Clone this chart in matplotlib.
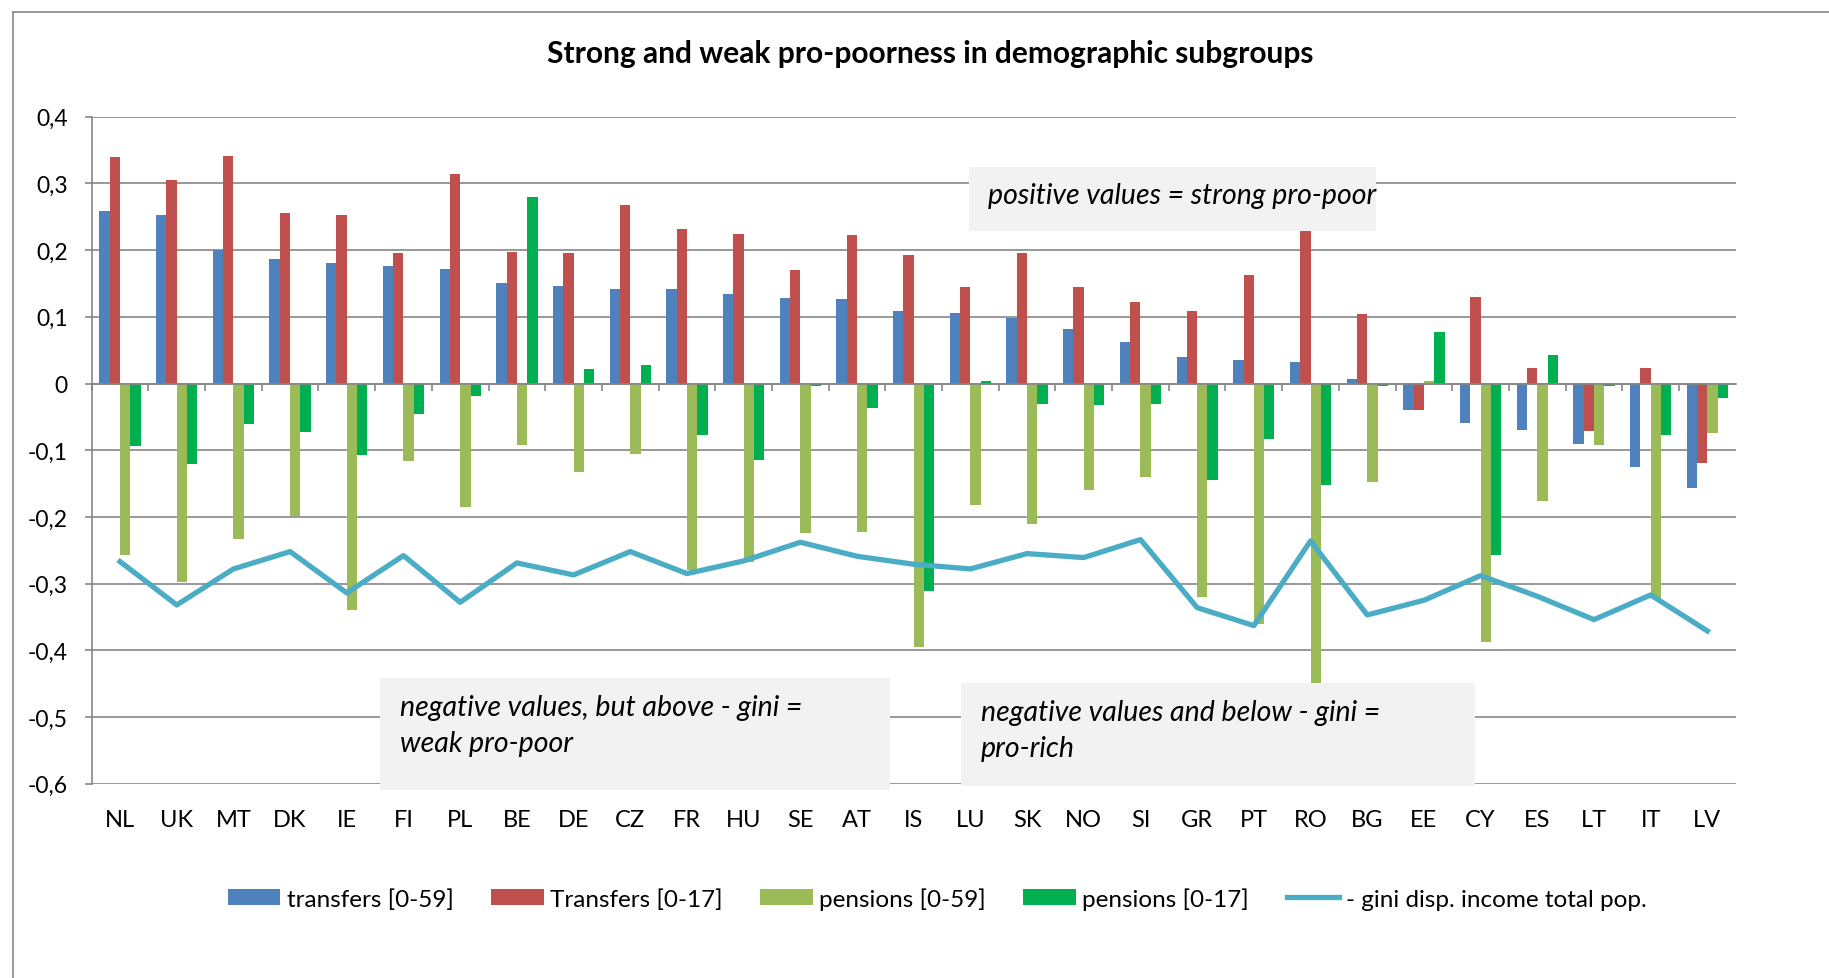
import matplotlib
matplotlib.use("Agg")
import matplotlib.pyplot as plt
import numpy as np
from matplotlib.lines import Line2D
from matplotlib.patches import Rectangle
from matplotlib.ticker import FuncFormatter, MultipleLocator

plt.rcParams["font.family"] = ["Lato", "DejaVu Sans"]

# data
countries = ["NL", "UK", "MT", "DK", "IE", "FI", "PL", "BE", "DE", "CZ",
             "FR", "HU", "SE", "AT", "IS", "LU", "SK", "NO", "SI", "GR",
             "PT", "RO", "BG", "EE", "CY", "ES", "LT", "IT", "LV"]

transfers_0_59 = [0.258, 0.252, 0.200, 0.187, 0.181, 0.176, 0.171, 0.150, 0.146, 0.142,
                  0.141, 0.134, 0.128, 0.127, 0.109, 0.105, 0.098, 0.081, 0.062, 0.039,
                  0.035, 0.032, 0.006, -0.039, -0.059, -0.070, -0.090, -0.125, -0.157]
transfers_0_17 = [0.340, 0.305, 0.341, 0.255, 0.253, 0.195, 0.314, 0.197, 0.196, 0.267,
                  0.232, 0.224, 0.170, 0.223, 0.193, 0.145, 0.195, 0.145, 0.122, 0.109,
                  0.163, 0.230, 0.104, -0.040, 0.130, 0.023, -0.071, 0.023, -0.119]
pensions_0_59 = [-0.257, -0.298, -0.233, -0.198, -0.339, -0.116, -0.185, -0.092, -0.132, -0.105,
                 -0.279, -0.267, -0.224, -0.223, -0.395, -0.182, -0.210, -0.159, -0.140, -0.320,
                 -0.360, -0.460, -0.147, 0.004, -0.388, -0.176, -0.092, -0.321, -0.074]
pensions_0_17 = [-0.094, -0.121, -0.060, -0.072, -0.107, -0.045, -0.018, 0.280, 0.021, 0.028,
                 -0.077, -0.114, -0.003, -0.036, -0.311, 0.003, -0.030, -0.032, -0.030, -0.144,
                 -0.083, -0.152, -0.003, 0.077, -0.257, 0.043, -0.003, -0.077, -0.021]
gini_total = [-0.267, -0.332, -0.278, -0.252, -0.314, -0.258, -0.328, -0.269, -0.287, -0.252,
              -0.285, -0.266, -0.238, -0.259, -0.271, -0.278, -0.255, -0.261, -0.234, -0.336,
              -0.363, -0.236, -0.347, -0.325, -0.288, -0.319, -0.354, -0.317, -0.371]

series = [
    ("transfers [0-59]", transfers_0_59, "#4F81BD"),
    ("Transfers [0-17]", transfers_0_17, "#C0504D"),
    ("pensions [0-59]", pensions_0_59, "#9BBB59"),
    ("pensions [0-17]", pensions_0_17, "#00B050"),
]

W, H = 1829, 979
GRAY = "#868686"


def fpos(x, y):
    # pixel position (from top-left) -> figure fraction
    return x / W, 1 - y / H


fig = plt.figure(figsize=(W / 100, H / 100), dpi=100)
ax = fig.add_axes([91.7 / W, 1 - 784.7 / H, (1735.7 - 91.7) / W, (784.7 - 117.7) / H])

x = np.arange(len(countries))
bw = 0.182
offsets = np.array([-1.5, -0.5, 0.5, 1.5]) * bw
for (label, vals, color), off in zip(series, offsets):
    ax.bar(x + off, vals, width=bw, color=color, label=label, zorder=2)

ax.plot(x, gini_total, color="#4BACC6", linewidth=3.8, zorder=3,
        label="- gini disp. income total pop.")

ax.set_xlim(-0.5, len(countries) - 0.5)
ax.set_ylim(-0.6, 0.4)
ax.yaxis.set_major_locator(MultipleLocator(0.1))
ax.yaxis.set_major_formatter(FuncFormatter(
    lambda v, p: "0" if abs(v) < 1e-9 else f"{v:.1f}".replace(".", ",")))
ax.yaxis.grid(True, color=GRAY, linewidth=1.2, zorder=0)
ax.set_axisbelow(True)

for s in ["top", "right"]:
    ax.spines[s].set_visible(False)
ax.spines["left"].set_color(GRAY)
ax.spines["left"].set_linewidth(1.2)
ax.spines["bottom"].set_position(("data", 0))
ax.spines["bottom"].set_color(GRAY)
ax.spines["bottom"].set_linewidth(1.2)
ax.spines["bottom"].set_zorder(4)

ax.tick_params(axis="y", direction="out", length=5.3, width=1.2, color=GRAY,
               pad=12, labelsize=16.5)
ax.set_xticks(x - 0.5, minor=True)
ax.set_xticks([])
ax.tick_params(axis="x", which="minor", direction="out", length=5, width=1.2, color=GRAY)

# category labels sit at the bottom of the plot area
sec = ax.secondary_xaxis("bottom")
sec.set_xticks(x, labels=countries)
sec.tick_params(length=0, pad=18.5, labelsize=17)
sec.spines["bottom"].set_visible(False)

# outer chart frame (only left and top edges visible in the crop)
fig.add_artist(Line2D([13 / W, 13 / W], [0, 1 - 12.7 / H], transform=fig.transFigure,
                      color=GRAY, linewidth=1.2))
fig.add_artist(Line2D([13 / W, 1], [1 - 12.7 / H, 1 - 12.7 / H], transform=fig.transFigure,
                      color=GRAY, linewidth=1.2))

fig.text(*fpos(930, 54), "Strong and weak pro-poorness in demographic subgroups",
         ha="center", va="center", fontsize=21.5, fontweight="bold")

# annotation boxes
boxes = [
    (969, 168, 1376, 232, [(988, 204, "positive values = strong pro-poor")]),
    (380, 679, 890, 791, [(400, 716, "negative values, but above - gini ="),
                          (400, 752, "weak pro-poor")]),
    (961, 684, 1475, 787, [(981, 721, "negative values and below - gini ="),
                           (981, 757, "pro-rich")]),
]
for x0, y0, x1, y1, lines in boxes:
    fx0, fy1 = fpos(x0, y1)
    fig.add_artist(Rectangle((fx0, fy1), (x1 - x0) / W, (y1 - y0) / H,
                             transform=fig.transFigure, facecolor="#F2F2F2",
                             edgecolor="none", zorder=5))
    for tx, ty, s in lines:
        fig.text(*fpos(tx, ty), s, ha="left", va="baseline", fontsize=20.5,
                 style="italic", zorder=6)

handles, labels = ax.get_legend_handles_labels()
order = [1, 2, 3, 4, 0]
fig.legend([handles[i] for i in order], [labels[i] for i in order],
           loc="center", bbox_to_anchor=fpos(937, 899.5), ncol=5, frameon=False,
           fontsize=17.5, handlelength=2.17, handleheight=0.66, handletextpad=0.25,
           columnspacing=1.55, borderpad=0, borderaxespad=0)

fig.savefig("out.png", dpi=100)
